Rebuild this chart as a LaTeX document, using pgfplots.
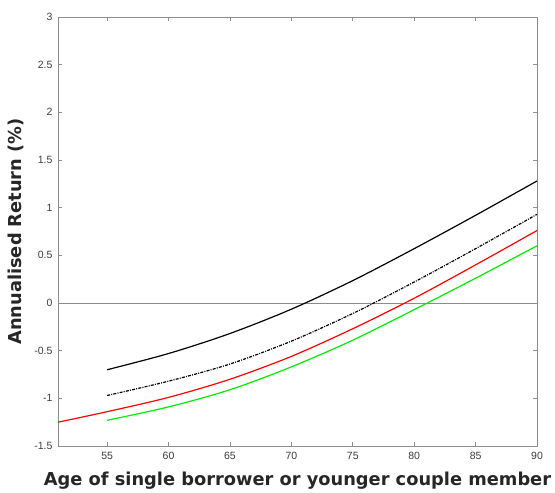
\documentclass[border=0pt]{standalone}
\usepackage{fontspec}
\setmainfont{Liberation Sans}
\newfontfamily\labfont{DejaVu Sans}
\usepackage{pgfplots}
\pgfplotsset{compat=1.18}
\definecolor{axgray}{RGB}{140,140,140}
\definecolor{tickgray}{RGB}{60,60,60}
\definecolor{mygreen}{RGB}{0,235,0}
\begin{document}
\begin{tikzpicture}
\begin{axis}[
  scale only axis,
  width=479pt, height=429pt,
  xmin=51, xmax=90, ymin=-1.5, ymax=3,
  xtick={55,60,65,70,75,80,85,90},
  ytick={-1.5,-1,-0.5,0,0.5,1,1.5,2,2.5,3},
  yticklabel style={/pgf/number format/fixed},
  /pgf/number format/assume math mode=true,
  tick label style={font=\fontsize{10.5}{12}\selectfont, text=tickgray},
  axis line style={axgray, line width=0.9pt},
  tick style={axgray, line width=0.6pt},
  major tick length=4pt,
  tick align=inside,
  xtick pos=both, ytick pos=both,
  xticklabel style={yshift=-3pt},
  yticklabel style={xshift=-2pt},
  xlabel={\labfont\bfseries Age of single borrower or younger couple member},
  ylabel={\labfont\bfseries Annualised Return (\%)},
  label style={font=\fontsize{17.8}{20}\selectfont, text=black!85},
  xlabel style={at={(axis description cs:0.5,-0.0909)}, anchor=base},
  ylabel style={at={(axis description cs:-0.0877,0.5)}, anchor=center},
  clip=true,
]
\addplot[axgray, line width=0.9pt, forget plot] coordinates {(51,0) (90,0)};
\addplot[black, line width=1.2pt, smooth] coordinates {
(55,-0.70) (60,-0.53) (65,-0.32) (70,-0.065) (75,0.235) (80,0.57) (85,0.92) (90,1.28)};
\addplot[black, line width=1.2pt, dash pattern=on 3pt off 1.2pt on 1pt off 1.2pt, smooth] coordinates {
(55,-0.97) (60,-0.82) (65,-0.64) (70,-0.40) (75,-0.11) (80,0.22) (85,0.57) (90,0.93)};
\addplot[red, line width=1.2pt, smooth] coordinates {
(51,-1.25) (55,-1.14) (60,-0.99) (65,-0.80) (70,-0.56) (75,-0.27) (80,0.05) (85,0.40) (90,0.76)};
\addplot[mygreen, line width=1.2pt, smooth] coordinates {
(55,-1.23) (60,-1.09) (65,-0.91) (70,-0.67) (75,-0.39) (80,-0.07) (85,0.26) (90,0.60)};
\end{axis}
\path ([shift={(-58pt,-43pt)}]current axis.south west) rectangle ([shift={(18pt,17pt)}]current axis.north east);
\end{tikzpicture}
\end{document}
